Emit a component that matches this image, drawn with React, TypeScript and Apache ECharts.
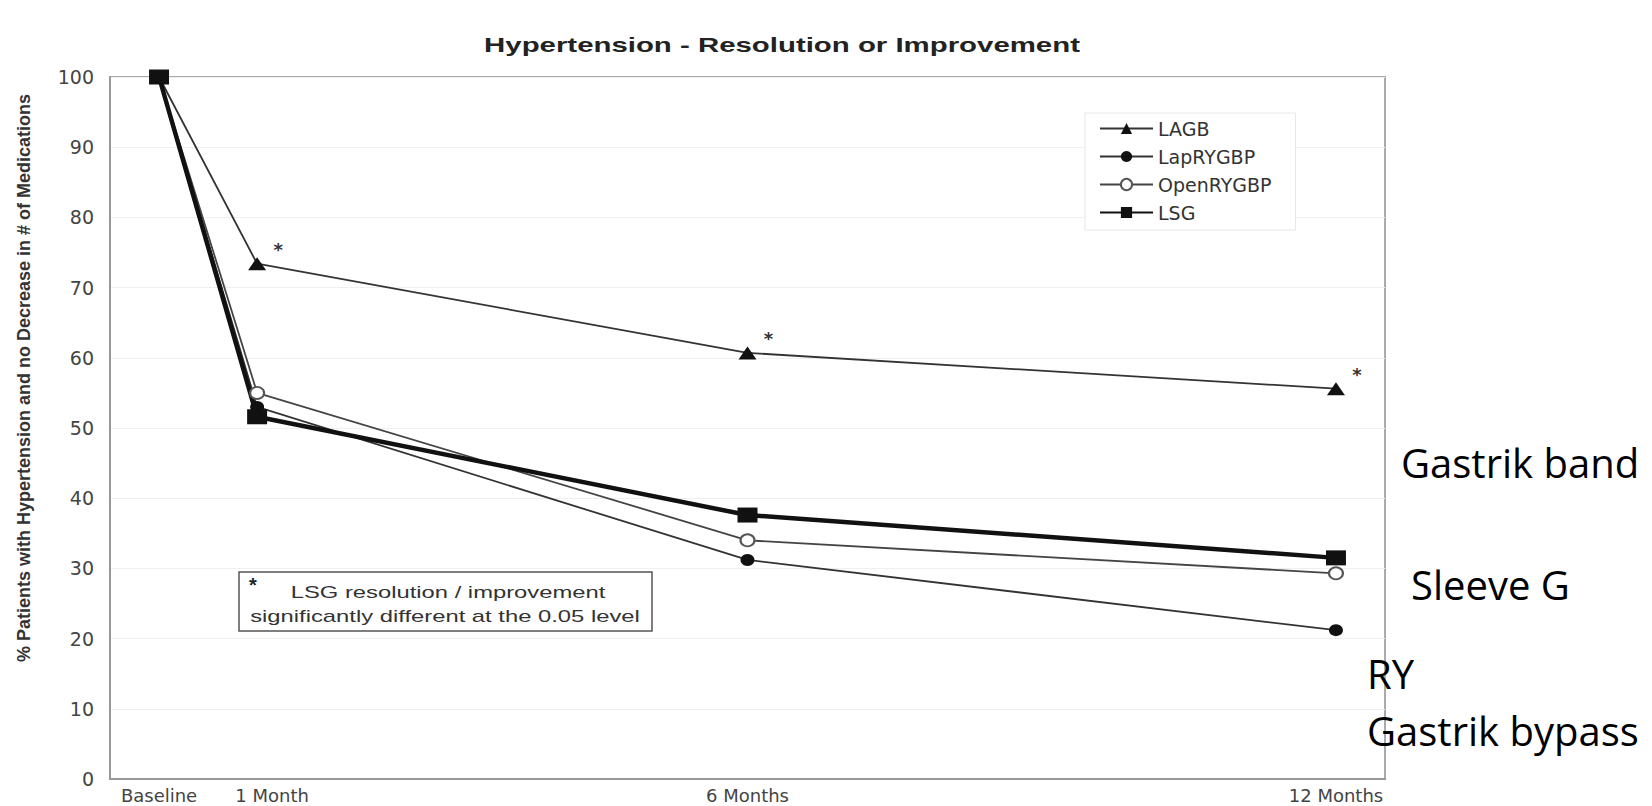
import React, { useEffect, useRef } from "react";
import * as echarts from "echarts";

// ---- data ----
const xMonths = [0, 1, 6, 12];
const tickValues = [0, 1, 6, 12];
const tickLabels = ["Baseline", "1 Month", "6 Months", "12 Months"];
const seriesNames = ["LAGB", "LapRYGBP", "OpenRYGBP", "LSG"];
const lagb = [100, 73.4, 60.7, 55.6];
const lapRygbp = [100, 53.0, 31.2, 21.2];
const openRygbp = [100, 55.0, 34.0, 29.3];
const lsg = [100, 51.6, 37.6, 31.5];
const lagbSignificant = [false, true, true, true];
const yTicks = { min: 0, max: 100, interval: 10 };

const titleText = "Hypertension - Resolution or Improvement";
const yAxisTitle = "% Patients with Hypertension and no Decrease in # of Medications";
const noteLine1 = "LSG resolution / improvement";
const noteLine2 = "significantly different at the 0.05 level";
const sideNotes = ["Gastrik band", "Sleeve G", "RY", "Gastrik bypass"];

const pts = (vals: number[]) => xMonths.map((m, i) => [m, vals[i]]);

export default function App() {
  const ref = useRef<HTMLDivElement>(null);
  useEffect(() => {
    if (!ref.current) return;
    const chart = echarts.init(ref.current, null, { renderer: "svg" });
    const lineBase = (name: string, vals: number[], extra: any) => ({
      name,
      type: "line",
      data: pts(vals),
      ...extra,
    });
    const txt = (o: any) => ({
      type: "text",
      x: o.x,
      y: o.y,
      scaleX: o.scaleX ?? 1,
      rotation: o.rotation ?? 0,
      z: 100,
      style: {
        text: o.text,
        fill: o.fill ?? "#333",
        font: o.font,
        textAlign: o.align ?? "center",
        textVerticalAlign: "middle",
        align: o.align ?? "center",
        verticalAlign: "middle",
      },
    });
    const option: any = {
      animation: false,
      backgroundColor: "#ffffff",
      grid: {
        left: 110,
        top: 77,
        width: 1275,
        height: 702,
        show: true,
        borderColor: "#aaaaaa",
        borderWidth: 2,
        backgroundColor: "transparent",
      },
      xAxis: {
        type: "value",
        min: -0.5,
        max: 12.5,
        interval: 0.5,
        axisLine: { show: true, onZero: false, lineStyle: { color: "#999", width: 2 } },
        axisTick: { show: false },
        splitLine: { show: false },
        axisLabel: {
          margin: 7,
          fontFamily: "DejaVu Sans",
          fontSize: 18,
          color: "#444",
          formatter: (v: number) => {
            const i = tickValues.indexOf(v);
            if (i < 0) return "";
            if (v === 1) return "{m|" + tickLabels[i] + "}";
            return tickLabels[i];
          },
          rich: {
            m: {
              padding: [0, 0, 0, 30],
              fontFamily: "DejaVu Sans",
              fontSize: 18,
              color: "#444",
            },
          },
        },
      },
      yAxis: {
        type: "value",
        min: yTicks.min,
        max: yTicks.max,
        interval: yTicks.interval,
        axisLine: { show: true, onZero: false, lineStyle: { color: "#999", width: 2 } },
        axisTick: { show: false },
        splitLine: { show: true, lineStyle: { color: "#f0f0f0", width: 1 } },
        axisLabel: {
          margin: 16,
          fontFamily: "DejaVu Sans",
          fontSize: 19,
          color: "#444",
        },
      },
      legend: {
        orient: "vertical",
        left: 1085,
        top: 113,
        padding: [6, 24, 8, 14],
        itemWidth: 53,
        itemHeight: 14,
        itemGap: 9,
        borderColor: "#e6e6e6",
        borderWidth: 1,
        backgroundColor: "#ffffff",
        data: seriesNames,
        textStyle: { fontFamily: "DejaVu Sans", fontSize: 19, color: "#333" },
      },
      series: [
        lineBase(seriesNames[0], lagb, {
          data: xMonths.map((m, i) => ({
            value: [m, lagb[i]],
            label: { show: lagbSignificant[i] },
          })),
          symbol: "triangle",
          symbolSize: [18, 13],
          lineStyle: { color: "#333", width: 1.8 },
          itemStyle: { color: "#111" },
          label: {
            show: true,
            formatter: "*",
            position: "inside",
            offset: [21, -14],
            fontSize: 18,
            fontWeight: "bold",
            color: "#333",
            fontFamily: "DejaVu Sans",
          },
        }),
        lineBase(seriesNames[1], lapRygbp, {
          symbol: "circle",
          symbolSize: [14, 12],
          lineStyle: { color: "#333", width: 1.8 },
          itemStyle: { color: "#111" },
        }),
        lineBase(seriesNames[2], openRygbp, {
          symbol: "emptyCircle",
          symbolSize: [14, 12],
          lineStyle: { color: "#444", width: 1.8 },
          itemStyle: { color: "#555", borderWidth: 1.5 },
        }),
        lineBase(seriesNames[3], lsg, {
          symbol: "rect",
          symbolSize: [20, 15],
          lineStyle: { color: "#111", width: 4.5 },
          itemStyle: { color: "#111" },
        }),
      ],
      graphic: [
        txt({ text: titleText, x: 782, y: 45, scaleX: 1.4, font: "bold 21px 'Liberation Sans', Arial, sans-serif", fill: "#222" }),
        txt({ text: yAxisTitle, x: 24, y: 378, rotation: Math.PI / 2, font: "bold 18px 'Liberation Sans', Arial, sans-serif", fill: "#333" }),
        {
          type: "rect",
          z: 90,
          shape: { x: 239, y: 572, width: 413, height: 59 },
          style: { fill: "#ffffff", stroke: "#555", lineWidth: 1.5 },
        },
        txt({ text: "*", x: 253, y: 585, font: "bold 20px 'Liberation Sans', Arial, sans-serif", fill: "#222" }),
        txt({ text: noteLine1, x: 448, y: 592, scaleX: 1.4, font: "17px 'Liberation Sans', Arial, sans-serif", fill: "#333" }),
        txt({ text: noteLine2, x: 445, y: 616, scaleX: 1.4, font: "17px 'Liberation Sans', Arial, sans-serif", fill: "#333" }),
        txt({ text: sideNotes[0], x: 1401, y: 462, align: "left", font: "40px 'Open Sans', sans-serif", fill: "#000" }),
        txt({ text: sideNotes[1], x: 1411, y: 584, align: "left", font: "40px 'Open Sans', sans-serif", fill: "#000" }),
        txt({ text: sideNotes[2], x: 1367, y: 673, align: "left", font: "40px 'Open Sans', sans-serif", fill: "#000" }),
        txt({ text: sideNotes[3], x: 1367, y: 730, align: "left", font: "40px 'Open Sans', sans-serif", fill: "#000" }),
      ],
    };
    chart.setOption(option);
    return () => chart.dispose();
  }, []);
  return (
    <div
      ref={ref}
      style={{ position: "fixed", left: 0, top: 0, width: 1652, height: 806, background: "#fff" }}
    />
  );
}
